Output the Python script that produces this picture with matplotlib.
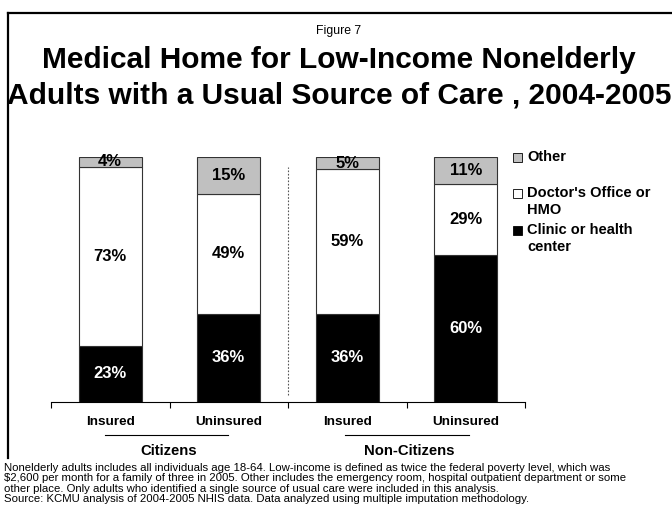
import matplotlib.pyplot as plt
import numpy as np
from matplotlib.lines import Line2D

plt.rcParams['font.family'] = ['Liberation Sans', 'DejaVu Sans']

groups = ['Insured', 'Uninsured', 'Insured', 'Uninsured']
clinic = [23, 36, 36, 60]
doctor = [73, 49, 59, 29]
other = [4, 15, 5, 11]

series = [
    ('Clinic or health\ncenter', clinic, 'black', 'white'),
    ("Doctor's Office or\nHMO", doctor, 'white', 'black'),
    ('Other', other, '#c0c0c0', 'black'),
]

W, H = 672, 512
fig = plt.figure(figsize=(W / 100, H / 100), dpi=100)


def px(x, y):
    return x / W, 1 - y / H


# frame around the slide
fig.add_artist(Line2D([8 / W, 8 / W], [1 - 13 / H, 1 - 458 / H], color='black', lw=1.6))
fig.add_artist(Line2D([8 / W, 1], [1 - 13 / H, 1 - 13 / H], color='black', lw=1.6))

fig.text(*px(339, 31), 'Figure 7', ha='center', va='center', fontsize=8.8)
fig.text(*px(339, 60), 'Medical Home for Low-Income Nonelderly', ha='center', va='center',
         fontsize=21.5, fontweight='bold')
fig.text(*px(339, 95), 'Adults with a Usual Source of Care , 2004-2005', ha='center', va='center',
         fontsize=21.5, fontweight='bold')

ax = fig.add_axes([51 / W, (H - 402) / H, (525 - 51) / W, 245 / H])
x = np.arange(len(groups))
bottom = np.zeros(len(groups))
for name, vals, fc, tc in series:
    vals = np.array(vals)
    ax.bar(x, vals, 0.53, bottom=bottom, color=fc, edgecolor='#333333', linewidth=0.8)
    for xi, b, v in zip(x, bottom, vals):
        ax.text(xi, b + v / 2, f'{v}%', ha='center', va='center', color=tc,
                fontsize=12, fontweight='bold')
    bottom += vals

ax.plot([1.5, 1.5], [3, 96], color='#555555', lw=0.8, ls=(0, (1.5, 1.5)))
ax.set_xlim(-0.5, 3.5)
ax.set_ylim(0, 100)
for s in ['left', 'right', 'top']:
    ax.spines[s].set_visible(False)
ax.spines['bottom'].set_linewidth(0.8)
ax.set_yticks([])
ax.set_xticks([-0.5, 0.5, 1.5, 2.5, 3.5])
ax.set_xticklabels([])
ax.tick_params(axis='x', direction='out', length=4, width=0.8)

# category and group labels
for xi, g in zip(x, groups):
    fig.text(px(51 + (xi + 0.5) * 118.5, 0)[0], 1 - 422 / H, g, ha='center', va='center',
             fontsize=9.7, fontweight='bold')
fig.add_artist(Line2D([105 / W, 228 / W], [1 - 435 / H] * 2, color='black', lw=0.8))
fig.add_artist(Line2D([345 / W, 469 / W], [1 - 435 / H] * 2, color='black', lw=0.8))
fig.text(*px(169, 451), 'Citizens', ha='center', va='center', fontsize=10.7, fontweight='bold')
fig.text(*px(409, 451), 'Non-Citizens', ha='center', va='center', fontsize=10.7, fontweight='bold')

# legend, one text per line
legend_items = [
    ('#c0c0c0', [('Other', 157)]),
    ('white', [("Doctor's Office or", 193), ('HMO', 210)]),
    ('black', [('Clinic or health', 230), ('center', 247)]),
]
for fc, lines in legend_items:
    y0 = lines[0][1]
    fig.patches.append(plt.Rectangle(px(513, y0 + 4.5), 9 / W, 9 / H, transform=fig.transFigure,
                                     facecolor=fc, edgecolor='black', lw=0.6))
    for label, y in lines:
        fig.text(*px(527, y), label, ha='left', va='center', fontsize=10.5, fontweight='bold')

notes = [
    'Nonelderly adults includes all individuals age 18-64. Low-income is defined as twice the federal poverty level, which was',
    '$2,600 per month for a family of three in 2005. Other includes the emergency room, hospital outpatient department or some',
    'other place. Only adults who identified a single source of usual care were included in this analysis.',
    'Source: KCMU analysis of 2004-2005 NHIS data. Data analyzed using multiple imputation methodology.',
]
fig.text(*px(4, 463), '\n'.join(notes), ha='left', va='top', fontsize=8.2, linespacing=1.05)

fig.savefig('out.png', dpi=100)
